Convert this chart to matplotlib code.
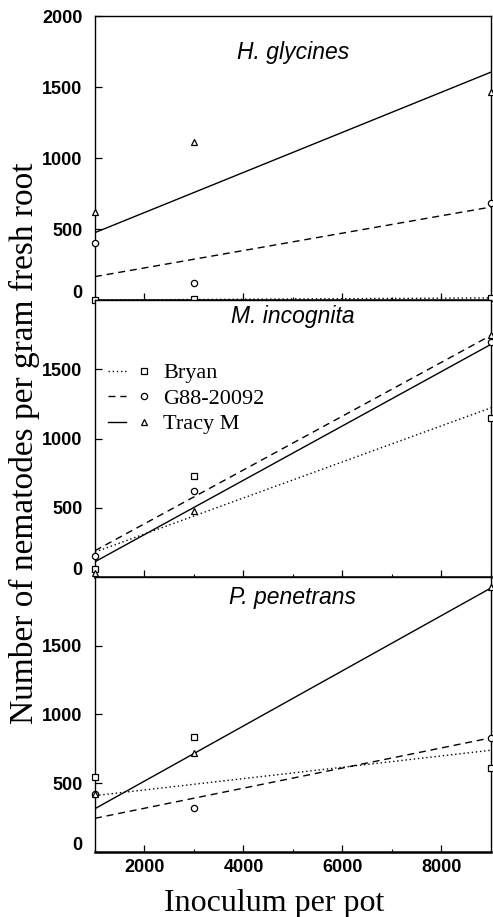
import matplotlib
matplotlib.use("Agg")
import matplotlib.pyplot as plt
from matplotlib.lines import Line2D
from matplotlib.legend_handler import HandlerTuple
from matplotlib.transforms import ScaledTranslation

# inoculum levels and fitted-line end points
inoculum = [1000, 3000, 9000]
fit_x = [1000, 9000]

# H. glycines
hg_bryan = [0, 5, 15]
hg_g88 = [400, 120, 680]
hg_tracy = [620, 1110, 1465]
hg_fit_bryan = [0, 15]
hg_fit_g88 = [165, 655]
hg_fit_tracy = [475, 1605]

# M. incognita
mi_bryan = [60, 730, 1145]
mi_g88 = [155, 620, 1700]
mi_tracy = [30, 480, 1750]
mi_fit_bryan = [180, 1222]
mi_fit_g88 = [190, 1745]
mi_fit_tracy = [110, 1680]

# P. penetrans
pp_bryan = [545, 833, 610]
pp_g88 = [425, 322, 830]
pp_tracy = [420, 720, 1925]
pp_fit_bryan = [410, 740]
pp_fit_g88 = [245, 830]
pp_fit_tracy = [315, 1920]

cultivars = ["Bryan", "G88-20092", "Tracy M"]
markers = ["s", "o", "^"]
styles = [(0, (1, 2)), (0, (5, 3.5)), "-"]

panels = [
    ("H. glycines", [hg_bryan, hg_g88, hg_tracy], [hg_fit_bryan, hg_fit_g88, hg_fit_tracy]),
    ("M. incognita", [mi_bryan, mi_g88, mi_tracy], [mi_fit_bryan, mi_fit_g88, mi_fit_tracy]),
    ("P. penetrans", [pp_bryan, pp_g88, pp_tracy], [pp_fit_bryan, pp_fit_g88, pp_fit_tracy]),
]

fig = plt.figure(figsize=(4.93, 9.17), dpi=100)
left, width = 0.1927, 0.8032
boxes = [(0.6728, 0.3097), (0.3708, 0.3020), (0.0709, 0.2999)]
title_y = [0.87, 0.94, 0.925]

tick_font = dict(family="Liberation Sans", weight="bold", size=13)
serif = "Liberation Serif"

axes = []
for i, (name, pts, fits) in enumerate(panels):
    ax = fig.add_axes([left, boxes[i][0], width, boxes[i][1]])
    axes.append(ax)
    for j in range(3):
        ax.plot(fit_x, fits[j], color="black", lw=1.0, linestyle=styles[j])
        ax.plot(inoculum, pts[j], linestyle="none", marker=markers[j], ms=4.5,
                mfc="white", mec="black", mew=0.9, clip_on=False, zorder=3)
    ax.set_xlim(1000, 9000)
    ax.set_ylim(0, 2000)
    ax.text(0.5, title_y[i], name, transform=ax.transAxes, ha="center", va="center",
            fontsize=16.5, style="italic", family="Liberation Sans")

    ax.set_xticks([2000, 4000, 6000, 8000])
    ax.set_xticks(range(1000, 9001, 1000), minor=True)
    if i == 0:
        ax.set_yticks([0, 500, 1000, 1500, 2000])
    else:
        ax.set_yticks([0, 500, 1000, 1500])
    ax.tick_params(direction="in", length=5, width=0.9, pad=9)
    ax.tick_params(which="minor", direction="in", length=2.5, width=0.8)
    ax.tick_params(axis="x", pad=5)
    for lab in ax.get_yticklabels() + ax.get_xticklabels():
        lab.set_fontproperties(tick_font)
    if i < 2:
        ax.tick_params(axis="x", labelbottom=False)
    for s in ax.spines.values():
        s.set_linewidth(1.0)
    ax.spines["bottom"].set_linewidth(1.8)
    # the "0" labels sit a little above the axis in the original
    zero = ax.yaxis.get_major_ticks()[0].label1
    zero.set_transform(zero.get_transform() + ScaledTranslation(0, 6 / 72, fig.dpi_scale_trans))

# legend in the middle panel: line sample, then marker
handles = []
for j in range(3):
    ln = Line2D([], [], color="black", lw=1.0, linestyle=styles[j])
    mk = Line2D([], [], linestyle="none", marker=markers[j], ms=4.5,
                mfc="white", mec="black", mew=0.9)
    handles.append((ln, mk))
axes[1].legend(handles, cultivars, handler_map={tuple: HandlerTuple(ndivide=None, pad=0.42)},
               loc="upper left", bbox_to_anchor=(0.01, 0.805), frameon=False,
               prop={"family": serif, "size": 16}, handlelength=2.05,
               handletextpad=0.45, labelspacing=0.22, borderaxespad=0)

axes[2].set_xlabel("Inoculum per pot", family=serif, fontsize=23, labelpad=8)
axes[2].xaxis.set_label_coords(0.452, -0.135)
fig.text(0.049, 0.517, "Number of nematodes per gram fresh root", rotation=90,
         ha="center", va="center", family=serif, fontsize=24)

fig.savefig("out.png", dpi=100)
